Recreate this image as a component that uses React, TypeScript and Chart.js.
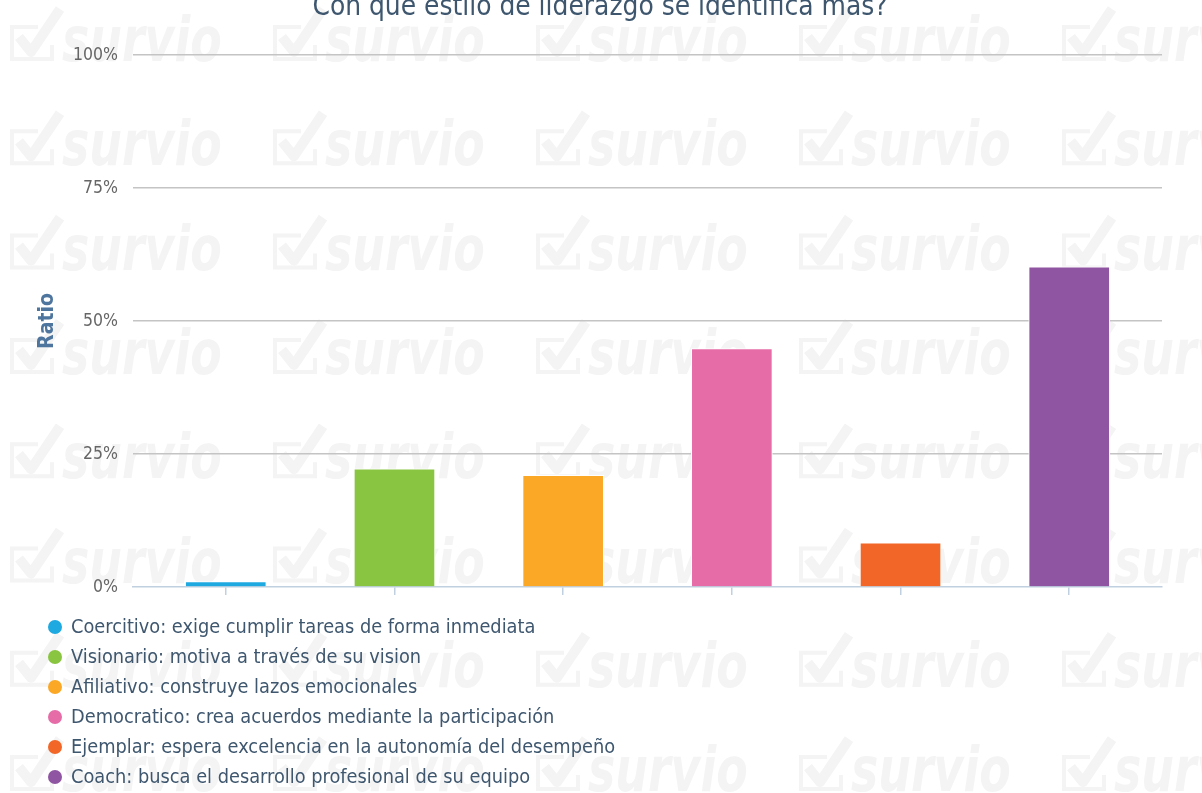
import React, { useEffect, useRef } from "react";
import { Chart, registerables } from "chart.js";

Chart.register(...registerables);

const titleText = "Con que estilo de liderazgo se identifica más?";
const categories = [
  "Coercitivo: exige cumplir tareas de forma inmediata",
  "Visionario: motiva a través de su vision",
  "Afiliativo: construye lazos emocionales",
  "Democratico: crea acuerdos mediante la participación",
  "Ejemplar: espera excelencia en la autonomía del desempeño",
  "Coach: busca el desarrollo profesional de su equipo",
];
const values = [1.0, 22.2, 21.0, 44.8, 8.3, 60.2];
const colors = ["#1ea9e1", "#89c541", "#fba826", "#e66ca8", "#f26727", "#9055a2"];
const yTickValues = [0, 25, 50, 75, 100];
const axisTitle = "Ratio";
const watermarkText = "survio";

const FONT = "'DejaVu Sans Condensed', 'DejaVu Sans', sans-serif";

const watermarkPlugin = {
  id: "watermark",
  beforeDraw(chart: any) {
    const ctx = chart.ctx;
    ctx.save();
    ctx.fillStyle = "#f4f4f4";
    ctx.strokeStyle = "#f4f4f4";
    for (let r = 0; r < 8; r++) {
      const by = 61 + r * 104.3;
      for (let c = 0; c < 5; c++) {
        const bx = c * 263;
        ctx.lineWidth = 4;
        ctx.lineJoin = "miter";
        ctx.beginPath();
        ctx.moveTo(bx + 38, by - 34);
        ctx.lineTo(bx + 12, by - 34);
        ctx.lineTo(bx + 12, by - 2);
        ctx.lineTo(bx + 52, by - 2);
        ctx.lineTo(bx + 52, by - 16);
        ctx.stroke();
        ctx.lineWidth = 10;
        ctx.lineJoin = "round";
        ctx.beginPath();
        ctx.moveTo(bx + 19, by - 24);
        ctx.lineTo(bx + 31, by - 9);
        ctx.lineTo(bx + 60, by - 52);
        ctx.stroke();
        ctx.save();
        ctx.translate(bx + 62, by);
        ctx.scale(0.74, 1);
        ctx.font = "italic bold 62px 'DejaVu Sans', sans-serif";
        ctx.textBaseline = "alphabetic";
        ctx.textAlign = "left";
        ctx.fillText(watermarkText, 0, 0);
        ctx.restore();
      }
    }
    ctx.restore();
  },
};

const titleLegendPlugin = {
  id: "titleLegend",
  afterDraw(chart: any) {
    const ctx = chart.ctx;
    ctx.save();
    ctx.fillStyle = "#3e576f";
    ctx.font = `27.8px ${FONT}`;
    ctx.textAlign = "center";
    ctx.textBaseline = "alphabetic";
    ctx.fillText(titleText, 600, 15);

    ctx.font = `19.8px ${FONT}`;
    ctx.textAlign = "left";
    ctx.textBaseline = "middle";
    categories.forEach((label, i) => {
      const y = 627 + i * 30;
      ctx.fillStyle = colors[i];
      ctx.beginPath();
      ctx.arc(55, y, 7, 0, Math.PI * 2);
      ctx.fill();
      ctx.fillStyle = "#3e576f";
      ctx.fillText(label, 71, y + 1);
    });
    ctx.restore();
  },
};

export default function App() {
  const ref = useRef<HTMLCanvasElement | null>(null);

  useEffect(() => {
    if (!ref.current) return;
    const chart = new Chart(ref.current, {
      type: "bar",
      data: {
        datasets: [
          {
            data: values.map((v, i) => ({ x: i, y: v })),
            backgroundColor: colors,
            borderColor: "#ffffff",
            borderWidth: 1,
            barThickness: 81,
          } as any,
        ],
      },
      plugins: [watermarkPlugin, titleLegendPlugin],
      options: {
        animation: false,
        responsive: false,
        layout: { padding: { top: 55, right: 40, bottom: 198, left: 0 } },
        plugins: {
          legend: { display: false },
          tooltip: { enabled: false },
          title: { display: false },
        },
        scales: {
          x: {
            type: "linear",
            min: -0.55,
            max: 5.55,
            offset: false,
            afterBuildTicks: (s: any) => {
              s.ticks = categories.map((_, i) => ({ value: i }));
            },
            ticks: { display: false },
            grid: {
              display: true,
              offset: false,
              drawOnChartArea: false,
              drawTicks: true,
              tickLength: 8,
              color: "#c0d0e0",
              lineWidth: 1.5,
            },
            border: { display: true, color: "#c0d0e0", width: 1.5 },
          },
          y: {
            min: 0,
            max: 100,
            afterBuildTicks: (s: any) => {
              s.ticks = yTickValues.map((v) => ({ value: v }));
            },
            afterFit: (s: any) => {
              s.width = 133;
            },
            ticks: {
              callback: (v: any) => v + "%",
              color: "#666666",
              font: { family: FONT, size: 17.5 },
              padding: 15,
            },
            grid: {
              drawTicks: false,
              color: (c: any) => (c.tick && c.tick.value === 0 ? "rgba(0,0,0,0)" : "#c4c4c4"),
              lineWidth: 1.5,
            },
            border: { display: false },
            title: {
              display: true,
              text: axisTitle,
              color: "#4d759e",
              font: { family: FONT, size: 21, weight: "bold" },
              padding: { top: 35, bottom: 0 },
            },
          },
        },
      } as any,
    });
    return () => chart.destroy();
  }, []);

  return (
    <div style={{ position: "fixed", left: 0, top: 0, width: 1202, height: 793, background: "#fff" }}>
      <canvas ref={ref} width={1202} height={793} style={{ display: "block" }} />
    </div>
  );
}
